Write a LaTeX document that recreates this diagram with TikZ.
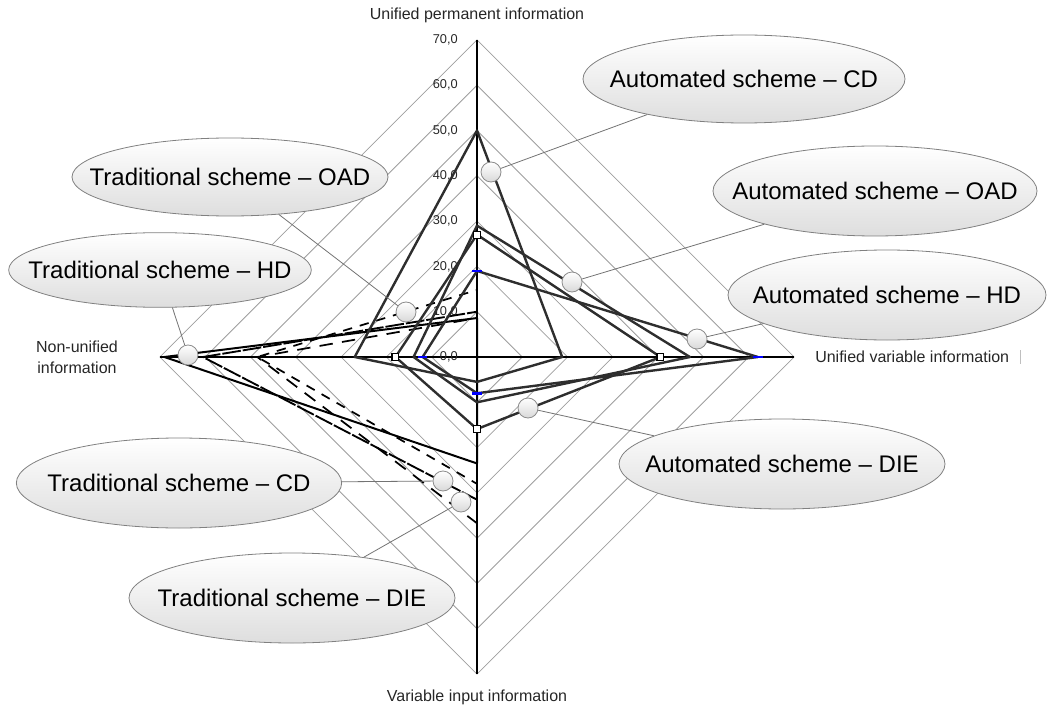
\documentclass[tikz,border=0pt]{standalone}
\usepackage{fontspec}
\setmainfont{Liberation Sans}
\usetikzlibrary{shapes.geometric}
\begin{document}
\begin{tikzpicture}[x=0.75pt,y=-0.75pt,
  gridline/.style={draw=black!38, line width=0.6pt},
  axisline/.style={draw=black, line width=0.8pt},
  autoline/.style={draw=black!82, line width=1.8pt, line join=round},
  tradline/.style={draw=black, line width=1.5pt, line join=round},
  callout/.style 2 args={ellipse, draw=black!50, line width=0.6pt, top color=white, bottom color=black!13,
    minimum width=#1, minimum height=#2, inner xsep=-45pt, inner ysep=0pt,
    font=\fontsize{18}{20}\selectfont},
  pin/.style={circle, draw=black!45, line width=0.6pt, top color=white, bottom color=black!15,
    minimum size=15pt, inner sep=0pt},
  calloutline/.style={draw=black!55, line width=0.6pt},
  axislabel/.style={font=\fontsize{12}{15.5}\selectfont, text=black!85, inner sep=0pt},
  ticklabel/.style={font=\fontsize{9.6}{11}\selectfont, anchor=east, text=black!85, inner sep=0pt},
]
\useasboundingbox (0,0) rectangle (1048,709);
\coordinate (O) at (477,357);

% grid diamonds
\foreach \k in {1,...,7}{
  \pgfmathsetmacro\r{45.3*\k}
  \draw[gridline] (477,{357-\r}) -- ({477+\r},357) -- (477,{357+\r}) -- ({477-\r},357) -- cycle;
}
% axes
\coordinate (Utop) at (477,40);
\coordinate (Dbot) at (477,674);
\coordinate (Lend) at (160,357);
\coordinate (Rend) at (794,357);
\draw[axisline] (Utop) -- (Dbot);
\draw[axisline] (Lend) -- (Rend);

% tick labels
\foreach \k/\t in {0/{0,0},1/{10,0},2/{20,0},3/{30,0},4/{40,0},5/{50,0},6/{60,0},7/{70,0}}{
  \node[ticklabel] (tick\k) at (458,{357-45.3*\k}) {\t};
}

% data series
\begin{scope}[shift={(O)}, x=3.3975pt, y=3.3975pt]
  % traditional schemes
  \draw[tradline] (0,8.6) -- (0,0) -- (0,-23.5) -- (-69,0) -- cycle;
  \draw[tradline, line width=1.4pt, dash pattern=on 14pt off 1.5pt] (0,10) -- (0,0) -- (0,-31.5) -- (-60.5,0) -- cycle;
  \draw[tradline, line width=1.3pt, dash pattern=on 7pt off 6pt] (0,14.8) -- (0,0) -- (0,-28) -- (-48.5,0) -- cycle;
  \draw[tradline, line width=1.3pt, dash pattern=on 10pt off 7pt] (0,8.6) -- (0,0) -- (0,-36.7) -- (-48.5,0) -- cycle;
  % automated schemes
  \draw[autoline] (0,50) -- (18.8,0) -- (0,-5.5) -- (-27,0) -- cycle;
  \draw[autoline] (0,29) -- (47,0) -- (0,-10) -- (-14,0) -- cycle;
  \draw[autoline] (0,19) -- (62,0) -- (0,-8) -- (-12,0) -- cycle;
  \draw[autoline] (0,27) -- (40.5,0) -- (0,-15.9) -- (-18,0) -- cycle;
  % markers
  \foreach \p in {(0,19),(62,0),(0,-8),(-12,0)}
    \fill[blue] \p +(-3.5pt,-1pt) rectangle +(3.5pt,1pt);
  \foreach \p in {(0,27),(40.5,0),(0,-15.9),(-18,0)}
    \draw[black, line width=0.8pt, fill=white] \p +(-2.6pt,-2.6pt) rectangle +(2.6pt,2.6pt);
\end{scope}

% axis labels
\node[axislabel] (labU) at (477,15) {Unified permanent information};
\node[axislabel, anchor=west] (labR) at (815,357) {Unified variable information};
\node[axislabel] (labD) at (477,697) {Variable input information};
\node[axislabel, align=center] (labL) at (77,357) {Non-unified\\information};
\draw[black!25, line width=0.6pt] (1020,350) -- (1020,364);

% callout ellipses
\node[callout={241.5pt}{66pt}] (eACD) at (744,79) {Automated scheme -- CD};
\node[callout={243pt}{67.5pt}] (eAOAD) at (875,191) {Automated scheme -- OAD};
\node[callout={238.5pt}{67.5pt}] (eAHD) at (887,295) {Automated scheme -- HD};
\node[callout={244.5pt}{67.5pt}] (eADIE) at (782,464) {Automated scheme -- DIE};
\node[callout={237pt}{58.5pt}] (eTOAD) at (230,177) {Traditional scheme -- OAD};
\node[callout={227pt}{56pt}] (eTHD) at (160,270) {Traditional scheme -- HD};
\node[callout={244pt}{67.5pt}] (eTCD) at (179,483) {Traditional scheme -- CD};
\node[callout={244.5pt}{67.5pt}] (eTDIE) at (292,598) {Traditional scheme -- DIE};

% pins
\node[pin] (pACD) at (491,172) {};
\node[pin] (pAOAD) at (572,282) {};
\node[pin] (pAHD) at (697,339) {};
\node[pin] (pADIE) at (528,408) {};
\node[pin] (pTOAD) at (406,312) {};
\node[pin] (pTHD) at (188,355) {};
\node[pin] (pTCD) at (443,481) {};
\node[pin] (pTDIE) at (461,502) {};

% callout connectors
\foreach \a in {ACD,AOAD,AHD,ADIE,TOAD,THD,TCD,TDIE}
  \draw[calloutline] (p\a) -- (e\a);
\end{tikzpicture}
\end{document}
